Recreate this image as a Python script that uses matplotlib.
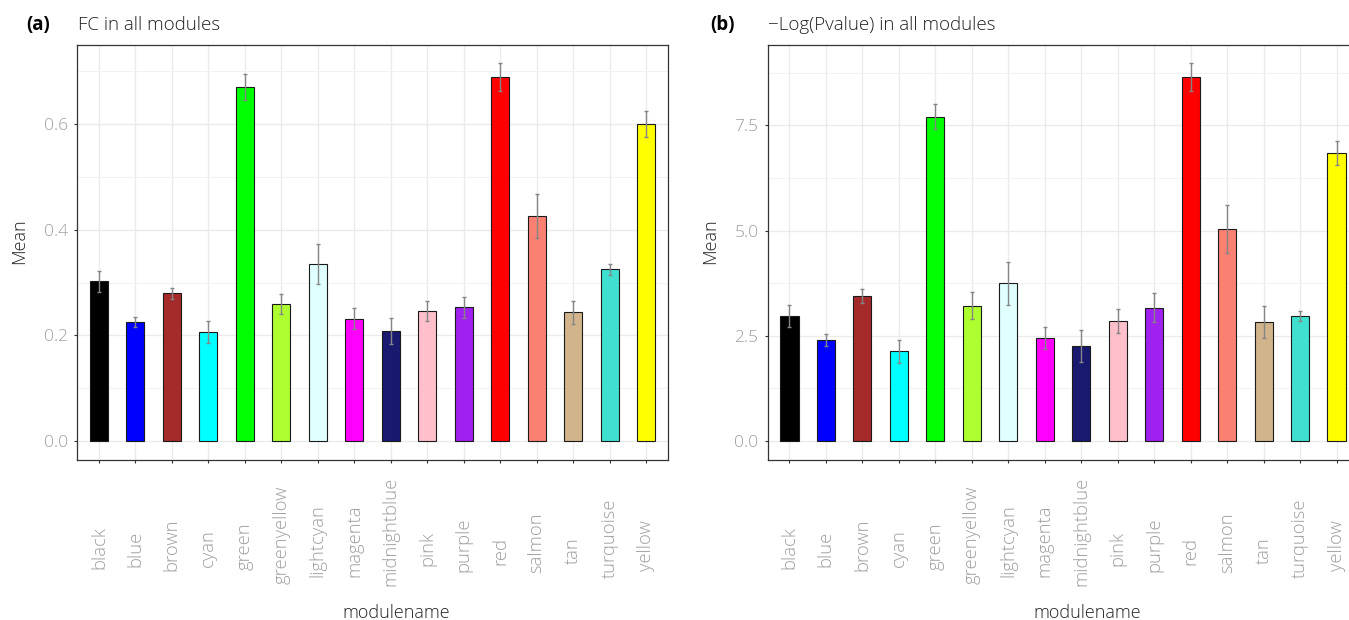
import matplotlib
import matplotlib.pyplot as plt
import numpy as np

matplotlib.rcParams['font.family'] = ['Open Sans', 'DejaVu Sans']

# module names and the colour each module is named after
modules = ['black', 'blue', 'brown', 'cyan', 'green', 'greenyellow', 'lightcyan', 'magenta',
           'midnightblue', 'pink', 'purple', 'red', 'salmon', 'tan', 'turquoise', 'yellow']
bar_colors = ['black', 'blue', 'brown', 'cyan', 'lime', 'greenyellow', 'lightcyan', 'magenta',
              'midnightblue', 'pink', '#A020F0', 'red', 'salmon', 'tan', 'turquoise', 'yellow']

# (a) FC
fc_mean = [0.303, 0.225, 0.280, 0.207, 0.670, 0.259, 0.336, 0.232,
           0.208, 0.246, 0.253, 0.689, 0.426, 0.244, 0.325, 0.600]
fc_se = [0.020, 0.0095, 0.010, 0.021, 0.025, 0.019, 0.038, 0.020,
         0.025, 0.019, 0.019, 0.026, 0.041, 0.022, 0.011, 0.025]
fc_ticks = [0.0, 0.2, 0.4, 0.6]
fc_ticklabels = ['0.0', '0.2', '0.4', '0.6']

# (b) -Log(Pvalue)
logp_mean = [2.98, 2.40, 3.44, 2.13, 7.71, 3.22, 3.75, 2.45,
             2.26, 2.86, 3.17, 8.64, 5.04, 2.83, 2.98, 6.85]
logp_se = [0.26, 0.14, 0.17, 0.27, 0.29, 0.33, 0.51, 0.27,
           0.38, 0.29, 0.35, 0.33, 0.58, 0.38, 0.12, 0.29]
logp_ticks = [0.0, 2.5, 5.0, 7.5]
logp_ticklabels = ['0.0', '2.5', '5.0', '7.5']

W, H = 1349, 620
TICK_GREY = '#9E9E9E'
DARK = '#333333'


def px(x, y):
    # pixel position (from top left) -> figure fraction
    return x / W, 1 - y / H


def draw_panel(ax, means, ses, yticks, yticklabels):
    x = np.arange(len(modules))
    ax.bar(x, means, width=0.5, color=bar_colors, edgecolor='#1a1a1a', linewidth=0.8, zorder=3)
    ax.errorbar(x, means, yerr=ses, fmt='none', ecolor='#858585', elinewidth=1.0,
                capsize=1.4, capthick=1.0, zorder=4)

    # ggplot style 5% expansion
    top = max(m + s for m, s in zip(means, ses))
    ax.set_ylim(-0.05 * top, 1.05 * top)
    ax.set_xlim(-0.6, len(modules) - 0.4)

    step = yticks[1] - yticks[0]
    ax.set_yticks(yticks)
    ax.set_yticklabels(yticklabels, fontweight='light')
    ax.set_yticks(np.array(yticks) + step / 2, minor=True)
    ax.set_xticks(x)
    ax.set_xticklabels([])

    ax.set_axisbelow(True)
    ax.grid(which='major', color='#EBEBEB', linewidth=1.0, zorder=0)
    ax.grid(which='minor', axis='y', color='#F2F2F2', linewidth=0.7, zorder=0)
    ax.tick_params(which='minor', length=0)
    ax.tick_params(which='major', length=2.5, width=0.8, color=DARK,
                   labelcolor=TICK_GREY, labelsize=12.5, pad=4)
    for sp in ax.spines.values():
        sp.set_color(DARK)
        sp.set_linewidth(0.9)

    # rotated category labels, placed by hand (partial justification like the original)
    labels = []
    for i, name in enumerate(modules):
        t = ax.text(i, 0, name, transform=ax.get_xaxis_transform(), rotation=90,
                    ha='center', va='bottom', fontsize=13.2, fontweight='light', color=TICK_GREY)
        labels.append(t)
    return labels


fig = plt.figure(figsize=(W / 100, H / 100), dpi=100)

ax_a = fig.add_axes([77 / W, 160 / H, 591 / W, 415.4 / H])
ax_b = fig.add_axes([767.5 / W, 160 / H, 591 / W, 415.4 / H])

labels_a = draw_panel(ax_a, fc_mean, fc_se, fc_ticks, fc_ticklabels)
labels_b = draw_panel(ax_b, logp_mean, logp_se, logp_ticks, logp_ticklabels)

# titles
for tag, title, x_tag, x_title in [('(a)', 'FC in all modules', 26.5, 77.5),
                                   ('(b)', '\u2212Log(Pvalue) in all modules', 710, 768)]:
    fig.text(*px(x_tag, 30), tag, fontsize=13.5, fontweight='bold', va='baseline', ha='left')
    fig.text(*px(x_title, 30), title, fontsize=13.5, fontweight='light', color='#222222',
             va='baseline', ha='left')

# axis titles
for x_mean, x_mod in [(19, 396.5), (710, 1087)]:
    fig.text(*px(x_mean, 241.5), 'Mean', rotation=90, fontsize=13, fontweight='light',
             color='#222222', ha='center', va='center')
    fig.text(*px(x_mod, 618), 'modulename', fontsize=13, fontweight='light', color='#222222',
             ha='center', va='baseline')

# shift each rotated label so that its start sits at 557px + 0.27 * its length
fig.canvas.draw()
renderer = fig.canvas.get_renderer()
for ax, labels in [(ax_a, labels_a), (ax_b, labels_b)]:
    ax_h = ax.get_window_extent(renderer).height
    for t in labels:
        L = t.get_window_extent(renderer).height
        t.set_y(-(97 + 0.27 * L) / ax_h)

fig.savefig('out.png', dpi=100)
